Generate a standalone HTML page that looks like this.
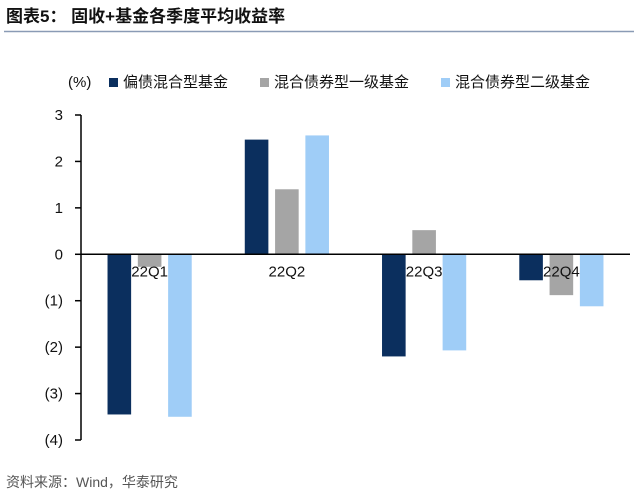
<!DOCTYPE html>
<html><head><meta charset="utf-8"><style>
body{margin:0;background:#fff;}
svg{display:block;font-family:"Liberation Sans","Noto Sans CJK SC",sans-serif;}
</style></head><body>
<svg width="640" height="499">
<text x="6" y="22" font-size="17" font-weight="bold" fill="#111">图表5：  固收+基金各季度平均收益率</text>
<line x1="4" y1="31.5" x2="634" y2="31.5" stroke="#8a9bb5" stroke-width="1.5"/>
<text x="68" y="87" font-size="15" fill="#111">(%)</text>
<g font-size="15" fill="#111">
<rect x="109" y="78" width="9" height="9" fill="#0b2f5e"/>
<text x="123" y="87">偏债混合型基金</text>
<rect x="260" y="78" width="9" height="9" fill="#a5a5a5"/>
<text x="274" y="87">混合债券型一级基金</text>
<rect x="441" y="78" width="9" height="9" fill="#9fcdf7"/>
<text x="455" y="87">混合债券型二级基金</text>
</g>
<g id="plot"></g>
<text x="6" y="487" font-size="14" fill="#555">资料来源：Wind，华泰研究</text>
</svg>
<script>
const categories=["22Q1","22Q2","22Q3","22Q4"];
const seriesA=[-3.45,2.47,-2.2,-0.56];
const seriesB=[-0.27,1.4,0.52,-0.88];
const seriesC=[-3.5,2.56,-2.07,-1.12];
const tickValues=[3,2,1,0,-1,-2,-3,-4];
const tickLabels=["3","2","1","0","(1)","(2)","(3)","(4)"];
const colors=["#0b2f5e","#a5a5a5","#9fcdf7"];
const NS="http://www.w3.org/2000/svg";
const g=document.getElementById("plot");
const x0=81,x1=630,yTop=115,yBot=440,vMax=3,vMin=-4;
const y=v=>yTop+(vMax-v)*(yBot-yTop)/(vMax-vMin);
const gw=(x1-x0)/categories.length;
const cx=i=>x0+gw*(i+0.5);
function mk(t,a){const e=document.createElementNS(NS,t);for(const k in a)e.setAttribute(k,a[k]);g.appendChild(e);return e;}
const series=[seriesA,seriesB,seriesC];
series.forEach((s,si)=>{s.forEach((v,i)=>{
 const bx=cx(i)+(si-1)*30.3-11.8;
 const r=mk("rect",{x:bx,y:Math.min(y(v),y(0)),width:23.6,height:Math.abs(y(v)-y(0)),fill:colors[si]});
 
 
});});
const ax=mk("line",{x1:x0,y1:yTop,x2:x0,y2:yBot,stroke:"#000","stroke-width":1.5});


const zl=mk("line",{x1:x0,y1:y(0),x2:x1,y2:y(0),stroke:"#000","stroke-width":1.5});


tickValues.forEach((v,i)=>{
 const t=mk("line",{x1:x0-6,y1:y(v),x2:x0,y2:y(v),stroke:"#000","stroke-width":1.5});
 
 
 const l=mk("text",{x:x0-18,y:y(v)+5,"font-size":15,"text-anchor":"end",fill:"#111"});
 l.textContent=tickLabels[i];
 
 
});
categories.forEach((c,i)=>{
 const l=mk("text",{x:cx(i),y:y(0)+22,"font-size":15,"text-anchor":"middle",fill:"#111"});
 l.textContent=c;
 
 
});
</script>
</body></html>
